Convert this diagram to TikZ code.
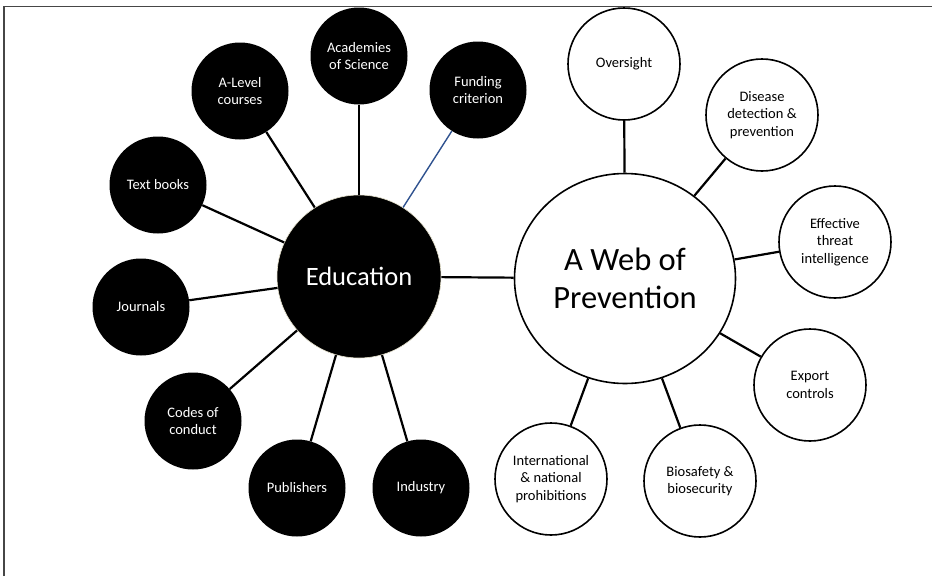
\documentclass[tikz,border=0pt]{standalone}
\usepackage{fontspec}
\setmainfont{Carlito}
\usetikzlibrary{shapes.geometric}
\definecolor{linkblue}{RGB}{47,82,143}
\definecolor{framegray}{RGB}{70,70,70}
\begin{document}
\begin{tikzpicture}[x=1pt,y=-1pt,
  smallfont/.style={font=\fontsize{14.5}{17.3}\selectfont},
  dark/.style={circle,fill=black,text=white,minimum size=97pt,inner sep=0pt,align=center,smallfont},
  light/.style={circle,draw=black,line width=1.6pt,fill=white,minimum size=112pt,inner sep=0pt,align=center,smallfont},
  link/.style={line width=2.2pt,draw=black},
  bluelink/.style={line width=1.4pt,draw=linkblue}]
\useasboundingbox (0,0) rectangle (932,576);
\draw[line width=1.6pt,framegray] (4,576) -- (4,6.5) -- (932,6.5);

% hubs
\node[ellipse,fill=black,draw={rgb,255:red,230;green,226;blue,205},line width=0.6pt,minimum width=164pt,minimum height=163pt,inner sep=0pt,text=white,font=\fontsize{26.5}{32}\selectfont] (edu) at (359,276.5) {Education};
\node[ellipse,draw=black,line width=1.6pt,fill=white,minimum width=221pt,minimum height=210pt,inner sep=0pt,align=center,font=\fontsize{32.5}{38}\selectfont] (web) at (625,278.5) {A Web of\\Prevention};

% education satellites
\node[dark] (acad) at (359,56) {Academies\\of Science};
\node[dark] (fund) at (478,90) {Funding\\criterion};
\node[dark] (alev) at (240,91) {A-Level\\courses};
\node[dark] (text) at (158,185) {Text books};
\node[dark] (jour) at (141,307) {Journals};
\node[dark] (code) at (193,421) {Codes of\\conduct};
\node[dark] (publ) at (297,488) {Publishers};
\node[dark] (indu) at (421,488) {Industry};

% prevention satellites
\node[light] (over) at (624,64) {Oversight};
\node[light] (dise) at (762,115) {Disease\\detection \&\\prevention};
\node[light] (effe) at (835,242) {Effective\\threat\\intelligence};
\node[light] (expo) at (810,385) {Export\\controls};
\node[light] (bios) at (700,481) {Biosafety \&\\biosecurity};
\node[light] (inte) at (551,479) {International\\\& national\\prohibitions};

% connectors
\draw[link] (edu) -- (web);
\draw[link] (edu) -- (acad);
\draw[bluelink] (edu) -- (fund);
\draw[link] (edu) -- (alev);
\draw[link] (edu) -- (text);
\draw[link] (edu) -- (jour);
\draw[link] (edu) -- (code);
\draw[link] (edu) -- (publ);
\draw[link] (edu) -- (indu);
\draw[link] (web) -- (over);
\draw[link] (web) -- (dise);
\draw[link] (web) -- (effe);
\draw[link] (web) -- (expo);
\draw[link] (web) -- (bios);
\draw[link] (web) -- (inte);
\end{tikzpicture}
\end{document}
